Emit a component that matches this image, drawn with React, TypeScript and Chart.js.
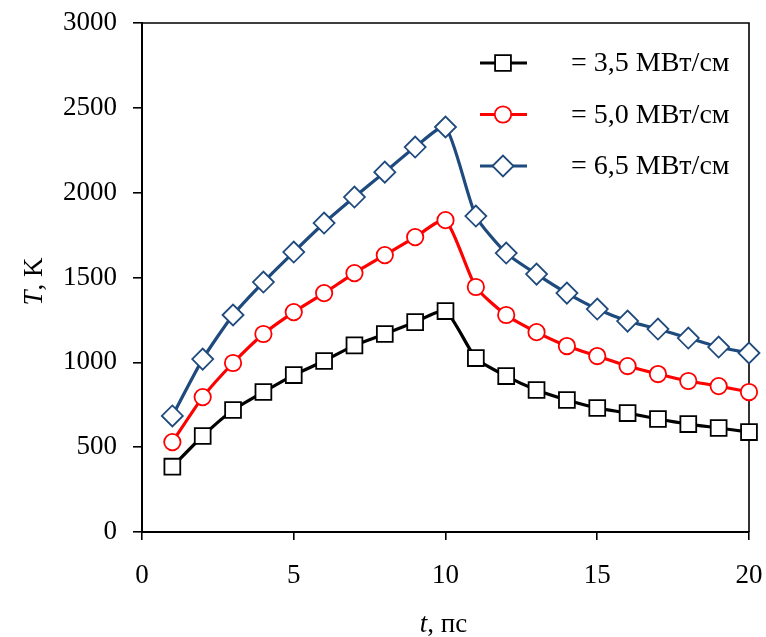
import React, { useEffect, useRef } from "react";
import { Chart, registerables } from "chart.js";

Chart.register(...registerables);

const times: number[] = [1, 2, 3, 4, 5, 6, 7, 8, 9, 10, 11, 12, 13, 14, 15, 16, 17, 18, 19, 20];
const series35: number[] = [385, 566, 719, 825, 925, 1008, 1100, 1167, 1237, 1302, 1025, 919, 837, 778, 731, 701, 666, 636, 613, 589];
const series50: number[] = [530, 795, 996, 1167, 1296, 1408, 1526, 1632, 1738, 1838, 1444, 1279, 1178, 1096, 1037, 978, 931, 890, 860, 825];
const series65: number[] = [684, 1019, 1279, 1473, 1650, 1821, 1974, 2121, 2269, 2387, 1862, 1644, 1520, 1408, 1314, 1243, 1196, 1143, 1090, 1055];
const legendLabels: string[] = ["= 3,5 МВт/см", "= 5,0 МВт/см", "= 6,5 МВт/см"];
const xTitle = { italic: "t", rest: ", пс" };
const yTitle = { italic: "T", rest: ", K" };

const FONT = "'Liberation Serif', 'Times New Roman', serif";
const BLUE = "#1F4A7D";

export default function App() {
  const ref = useRef<HTMLCanvasElement | null>(null);

  useEffect(() => {
    document.body.style.margin = "0";
    const canvas = ref.current;
    if (!canvas) return;

    const styles = [
      { color: "#000000", point: "rect", radius: 11.2 },
      { color: "#FF0000", point: "circle", radius: 8.2 },
      { color: BLUE, point: "rectRot", radius: 10.5 },
    ];
    const allSeries = [series35, series50, series65];

    const drawMarker = (ctx: CanvasRenderingContext2D, kind: string, r: number, x: number, y: number) => {
      ctx.beginPath();
      if (kind === "rect") {
        const s = r * Math.SQRT1_2;
        ctx.rect(x - s, y - s, 2 * s, 2 * s);
      } else if (kind === "circle") {
        ctx.arc(x, y, r, 0, Math.PI * 2);
      } else {
        ctx.moveTo(x - r, y);
        ctx.lineTo(x, y - r);
        ctx.lineTo(x + r, y);
        ctx.lineTo(x, y + r);
        ctx.closePath();
      }
      ctx.fill();
      ctx.stroke();
    };

    const framePlugin = {
      id: "frame",
      beforeDatasetsDraw(chart: any) {
        const { ctx, chartArea } = chart;
        ctx.save();
        ctx.strokeStyle = "#000";
        ctx.lineWidth = 1.6;
        ctx.beginPath();
        ctx.moveTo(chartArea.left, chartArea.top);
        ctx.lineTo(chartArea.right, chartArea.top);
        ctx.lineTo(chartArea.right, chartArea.bottom);
        ctx.stroke();
        ctx.restore();
      },
      afterDraw(chart: any) {
        const { ctx, chartArea } = chart;
        ctx.save();
        const rowY = [63, 114.5, 166];
        styles.forEach((s, i) => {
          const y = rowY[i];
          ctx.strokeStyle = s.color;
          ctx.lineWidth = 3.2;
          ctx.beginPath();
          ctx.moveTo(480, y);
          ctx.lineTo(527, y);
          ctx.stroke();
          ctx.fillStyle = "#fff";
          ctx.lineWidth = 1.8;
          drawMarker(ctx, s.point, s.radius, 503, y);
          ctx.fillStyle = "#000";
          ctx.font = `28px ${FONT}`;
          ctx.textAlign = "left";
          ctx.textBaseline = "middle";
          ctx.fillText(legendLabels[i], 571, y + 1);
        });
        const drawMixed = (t: { italic: string; rest: string }, cx: number, cy: number, rot: number) => {
          ctx.save();
          ctx.translate(cx, cy);
          ctx.rotate(rot);
          ctx.fillStyle = "#000";
          ctx.textBaseline = "alphabetic";
          ctx.textAlign = "left";
          ctx.font = `italic 27px ${FONT}`;
          const w1 = ctx.measureText(t.italic).width;
          ctx.font = `27px ${FONT}`;
          const w2 = ctx.measureText(t.rest).width;
          const start = -(w1 + w2) / 2;
          ctx.font = `italic 27px ${FONT}`;
          ctx.fillText(t.italic, start, 0);
          ctx.font = `27px ${FONT}`;
          ctx.fillText(t.rest, start + w1, 0);
          ctx.restore();
        };
        drawMixed(xTitle, (chartArea.left + chartArea.right) / 2 - 2, 632, 0);
        drawMixed(yTitle, 42, (chartArea.top + chartArea.bottom) / 2 + 4, -Math.PI / 2);
        ctx.restore();
      },
    };

    const chart = new Chart(canvas, {
      type: "line",
      data: {
        datasets: allSeries.map((vals, i) => ({
          label: legendLabels[i],
          data: times.map((t, k) => ({ x: t, y: vals[k] })),
          borderColor: styles[i].color,
          backgroundColor: "#ffffff",
          borderWidth: 3.2,
          pointStyle: styles[i].point as any,
          pointRadius: styles[i].radius,
          pointBorderWidth: 1.8,
          pointBorderColor: styles[i].color,
          pointBackgroundColor: "#ffffff",
          tension: 0.2,
          clip: false as any,
          order: 3 - i,
        })),
      },
      options: {
        animation: false,
        responsive: true,
        maintainAspectRatio: false,
        layout: { padding: { top: 23, right: 17, left: 0, bottom: 0 } },
        plugins: {
          legend: { display: false },
          tooltip: { enabled: false },
        },
        scales: {
          x: {
            type: "linear",
            min: 0,
            max: 20,
            ticks: {
              stepSize: 5,
              color: "#000",
              font: { family: FONT, size: 27 },
              padding: 20,
              maxRotation: 0,
              callback: (v: any) => String(v),
            },
            grid: {
              drawOnChartArea: false,
              tickLength: 8,
              tickColor: "#000",
              lineWidth: 1.6,
            },
            border: { color: "#000", width: 2 },
            afterFit: (scale: any) => {
              scale.height = 105;
              scale.paddingLeft = 0;
              scale.paddingRight = 0;
            },
          },
          y: {
            type: "linear",
            min: 0,
            max: 3000,
            ticks: {
              stepSize: 500,
              color: "#000",
              font: { family: FONT, size: 27 },
              padding: 16,
              callback: (v: any) => String(v),
            },
            grid: {
              drawOnChartArea: false,
              tickLength: 9,
              tickColor: "#000",
              lineWidth: 1.6,
            },
            border: { color: "#000", width: 2 },
            afterFit: (scale: any) => {
              scale.width = 142;
              scale.paddingTop = 0;
              scale.paddingBottom = 0;
            },
          },
        },
      },
      plugins: [framePlugin],
    });

    return () => chart.destroy();
  }, []);

  return (
    <div style={{ position: "fixed", left: 0, top: 0, width: 766, height: 637, background: "#fff" }}>
      <canvas ref={ref} />
    </div>
  );
}
